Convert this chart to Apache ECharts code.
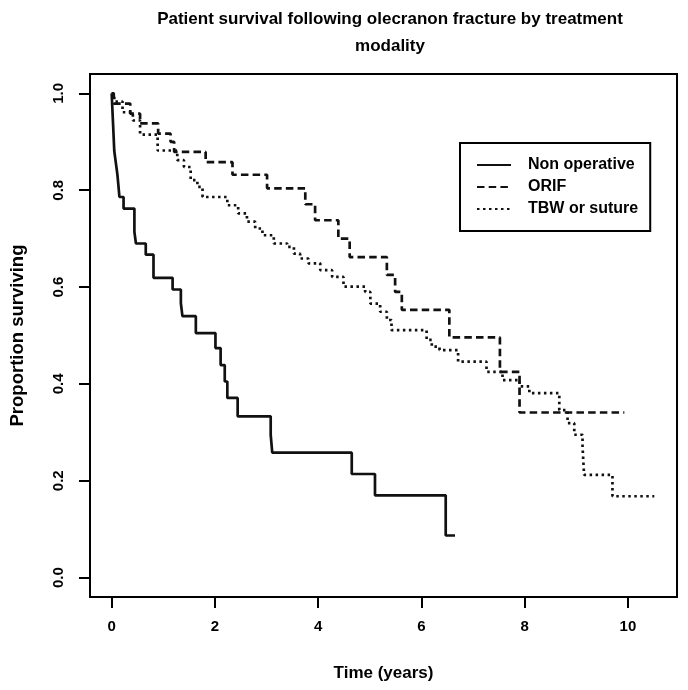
<!DOCTYPE html>
<html>
<head>
<meta charset="utf-8">
<script src="https://cdn.jsdelivr.net/npm/echarts@6/dist/echarts.min.js"></script>
<style>
  html, body { margin: 0; padding: 0; background: #fff; }
  #chart { width: 688px; height: 690px; }
</style>
</head>
<body>
<div id="chart"></div>
<script>
// Kaplan-Meier steps (time in years, proportion surviving)
const nonOpTime = [0, 0.01, 0.02, 0.03, 0.04, 0.05, 0.08, 0.11, 0.13, 0.15, 0.23, 0.44, 0.47, 0.66, 0.81, 1.18, 1.34, 1.37, 1.63, 2.01, 2.11, 2.19, 2.24, 2.44, 3.08, 3.11, 4.65, 5.10, 6.47, 6.65]
const nonOpSurv = [1.0, 0.976, 0.952, 0.929, 0.905, 0.881, 0.857, 0.833, 0.810, 0.786, 0.762, 0.714, 0.690, 0.667, 0.619, 0.595, 0.567, 0.540, 0.505, 0.474, 0.439, 0.405, 0.371, 0.333, 0.295, 0.258, 0.214, 0.170, 0.087, 0.087]

const orifTime = [0, 0.04, 0.36, 0.55, 0.90, 1.14, 1.21, 1.82, 2.34, 3.01, 3.75, 3.94, 4.39, 4.61, 5.33, 5.49, 5.62, 6.54, 7.52, 7.90, 9.93]
const orifSurv = [1.0, 0.979, 0.958, 0.938, 0.917, 0.900, 0.879, 0.858, 0.832, 0.804, 0.771, 0.738, 0.700, 0.662, 0.625, 0.590, 0.553, 0.496, 0.425, 0.341, 0.341]

const tbwTime = [0, 0.05, 0.21, 0.41, 0.55, 0.89, 1.27, 1.40, 1.53, 1.66, 1.76, 2.24, 2.45, 2.62, 2.78, 2.92, 3.14, 3.40, 3.53, 3.65, 3.81, 4.04, 4.27, 4.49, 4.91, 5.01, 5.20, 5.33, 5.42, 6.10, 6.20, 6.35, 6.71, 7.26, 7.57, 7.90, 8.09, 8.67, 8.83, 8.96, 9.12, 9.15, 9.70, 10.51]
const tbwSurv = [1.0, 0.983, 0.961, 0.944, 0.915, 0.882, 0.862, 0.848, 0.821, 0.807, 0.786, 0.769, 0.752, 0.735, 0.721, 0.707, 0.690, 0.683, 0.669, 0.659, 0.649, 0.635, 0.621, 0.601, 0.590, 0.566, 0.549, 0.532, 0.511, 0.491, 0.477, 0.470, 0.446, 0.425, 0.408, 0.395, 0.381, 0.346, 0.319, 0.295, 0.271, 0.212, 0.168, 0.168]

const xTicks = [0, 2, 4, 6, 8, 10]
const yTicks = [0, 0.2, 0.4, 0.6, 0.8, 1.0]
const seriesNames = ['Non operative', 'ORIF', 'TBW or suture']

const font = 'Liberation Sans, Arial, sans-serif'

function pairs(t, s) {
  return t.map((v, i) => [v, s[i]])
}

function kmSeries(name, data, type) {
  return {
    name: name,
    type: 'line',
    step: 'end',
    symbol: 'none',
    silent: true,
    data: data,
    lineStyle: { color: '#111', width: 2.7, type: type },
    itemStyle: { color: '#111' }
  }
}

const myChart = echarts.init(document.getElementById('chart'), null, { renderer: 'canvas' })
const option = {
  backgroundColor: '#fff',
  animation: false,
  title: {
    text: 'Patient survival following olecranon fracture by treatment\nmodality',
    left: 385,
    top: 1,
    textAlign: 'center',
    textStyle: {
      fontFamily: font,
      fontWeight: 'bold',
      fontSize: 17,
      lineHeight: 27,
      color: '#000'
    }
  },
  legend: {
    data: seriesNames,
    orient: 'vertical',
    left: 460,
    top: 143,
    itemWidth: 34,
    itemHeight: 14,
    itemGap: 6,
    padding: [14, 12, 14, 16],
    borderColor: '#000',
    borderWidth: 2,
    // hide the default circle, keep only the line sample
    itemStyle: { opacity: 0, borderWidth: 0 },
    textStyle: {
      fontFamily: font,
      fontWeight: 'bold',
      fontSize: 16,
      color: '#000',
      padding: [0, 0, 0, 12]
    }
  },
  grid: {
    left: 89,
    right: 11,
    top: 74,
    bottom: 93,
    show: true,
    borderColor: '#000',
    borderWidth: 2,
    backgroundColor: 'transparent'
  },
  xAxis: {
    type: 'value',
    min: -0.42,
    max: 10.95,
    name: 'Time (years)',
    nameLocation: 'middle',
    nameGap: 68,
    nameTextStyle: { fontFamily: font, fontWeight: 'bold', fontSize: 17, color: '#000' },
    axisLine: { show: false, onZero: false },
    axisTick: { show: true, length: 11, lineStyle: { color: '#000', width: 2 }, customValues: xTicks },
    axisLabel: {
      fontFamily: font, fontWeight: 'bold', fontSize: 15, color: '#000', margin: 22,
      customValues: xTicks
    },
    splitLine: { show: false }
  },
  yAxis: {
    type: 'value',
    min: -0.04,
    max: 1.04,
    name: 'Proportion surviving',
    nameLocation: 'middle',
    nameGap: 63,
    nameTextStyle: { fontFamily: font, fontWeight: 'bold', fontSize: 18.5, color: '#000' },
    axisLine: { show: false, onZero: false },
    axisTick: { show: true, length: 11, lineStyle: { color: '#000', width: 2 }, customValues: yTicks },
    axisLabel: {
      fontFamily: font, fontWeight: 'bold', fontSize: 15, color: '#000', margin: 24, rotate: 90,
      customValues: yTicks,
      formatter: function (v) { return v.toFixed(1) }
    },
    splitLine: { show: false }
  },
  series: [
    kmSeries(seriesNames[0], pairs(nonOpTime, nonOpSurv), 'solid'),
    kmSeries(seriesNames[1], pairs(orifTime, orifSurv), [7.5, 4.2]),
    kmSeries(seriesNames[2], pairs(tbwTime, tbwSurv), [2.5, 3.5])
  ]
}
myChart.setOption(option)
</script>
</body>
</html>
